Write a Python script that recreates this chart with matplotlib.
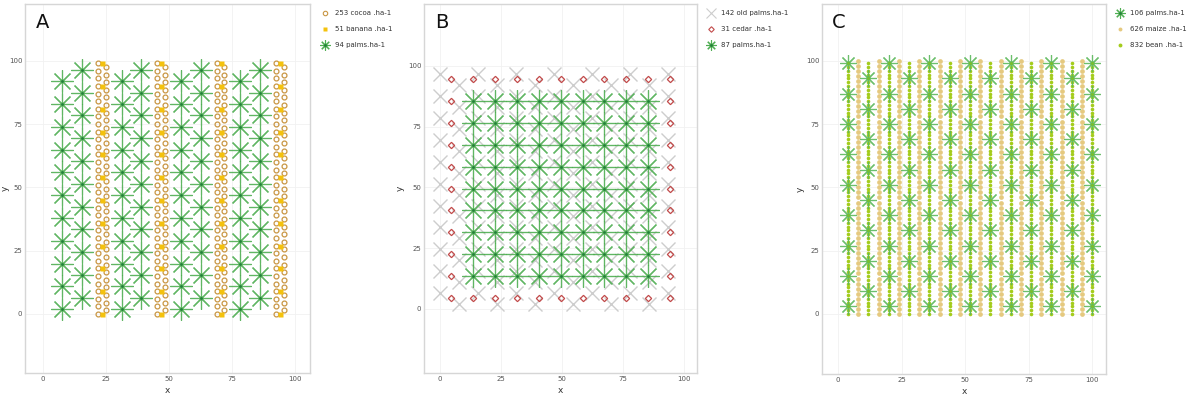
import numpy as np
import matplotlib.pyplot as plt
from matplotlib.lines import Line2D

# ---- panel A : palms + cocoa/banana strips
a_palm_x1 = [7.8, 31.3, 54.8, 78.3]
a_palm_x2 = [15.6, 39.1, 62.6, 86.1]
a_palm_y1 = [1.9, 10.9, 19.9, 28.9, 37.9, 46.9, 55.9, 64.9, 73.9, 82.9, 91.9]
a_palm_y2 = [6.4, 15.4, 24.4, 33.4, 42.4, 51.4, 60.4, 69.4, 78.4, 87.4, 96.4]
a_cocoa_x1 = [22.0, 45.5, 69.0, 92.5]
a_cocoa_x2 = [25.0, 48.5, 72.0, 95.5]
a_cocoa_y1 = [0, 3, 6, 9, 12, 15, 18, 21, 24, 27, 30, 33, 36, 39, 42, 45, 48,
              51, 54, 57, 60, 63, 66, 69, 72, 75, 78, 81, 84, 87, 90, 93, 96, 99]
a_cocoa_y2 = [1.5, 4.5, 7.5, 10.5, 13.5, 16.5, 19.5, 22.5, 25.5, 28.5, 31.5,
              34.5, 37.5, 40.5, 43.5, 46.5, 49.5, 52.5, 55.5, 58.5, 61.5, 64.5,
              67.5, 70.5, 73.5, 76.5, 79.5, 82.5, 85.5, 88.5, 91.5, 94.5, 97.5]
a_banana_x = [23.6, 47.1, 70.6, 94.1]
a_banana_y = [0, 9, 18, 27, 36, 45, 54, 63, 72, 81, 90, 99]

# ---- panel B : old palms, cedar border, new palm square grid
b_old_x1 = [0, 15.6, 31.2, 46.8, 62.4, 78.0, 93.6]
b_old_x2 = [7.8, 23.4, 39.0, 54.6, 70.2, 85.8]
b_old_y1 = [6.5, 15.5, 24.5, 33.5, 42.5, 51.5, 60.5, 69.5, 78.5, 87.5, 96.5]
b_old_y2 = [2.0, 11.0, 20.0, 29.0, 38.0, 47.0, 56.0, 65.0, 74.0, 83.0, 92.0]
b_cedar_pos = [4.5, 13.5, 22.5, 31.5, 40.5, 49.5, 58.5, 67.5, 76.5, 85.5, 94.5]
b_palm_pos = [13.5, 22.5, 31.5, 40.5, 49.5, 58.5, 67.5, 76.5, 85.5]

# ---- panel C : palms with beans on the row, maize between rows
c_palm_x1 = [4, 20, 36, 52, 68, 84, 100]
c_palm_x2 = [12, 28, 44, 60, 76, 92]
c_palm_y1 = [3, 15, 27, 39, 51, 63, 75, 87, 99]
c_palm_y2 = [9, 21, 33, 45, 57, 69, 81, 93]
c_bean_x = [4, 12, 20, 28, 36, 44, 52, 60, 68, 76, 84, 92, 100]
c_bean_y = [0, 1.5, 3, 4.5, 6, 7.5, 9, 10.5, 12, 13.5, 15, 16.5, 18, 19.5, 21,
            22.5, 24, 25.5, 27, 28.5, 30, 31.5, 33, 34.5, 36, 37.5, 39, 40.5,
            42, 43.5, 45, 46.5, 48, 49.5, 51, 52.5, 54, 55.5, 57, 58.5, 60,
            61.5, 63, 64.5, 66, 67.5, 69, 70.5, 72, 73.5, 75, 76.5, 78, 79.5,
            81, 82.5, 84, 85.5, 87, 88.5, 90, 91.5, 93, 94.5, 96, 97.5, 99]
c_maize_x = [8, 16, 24, 32, 40, 48, 56, 64, 72, 80, 88, 96]
c_maize_y = [0, 2, 4, 6, 8, 10, 12, 14, 16, 18, 20, 22, 24, 26, 28, 30, 32, 34,
             36, 38, 40, 42, 44, 46, 48, 50, 52, 54, 56, 58, 60, 62, 64, 66, 68,
             70, 72, 74, 76, 78, 80, 82, 84, 86, 88, 90, 92, 94, 96, 98, 100]

labels_a = ["253 cocoa .ha-1", "51 banana .ha-1", "94 palms.ha-1"]
labels_b = ["142 old palms.ha-1", "31 cedar .ha-1", "87 palms.ha-1"]
labels_c = ["106 palms.ha-1", "626 maize .ha-1", "832 bean .ha-1"]


def grid(xs, ys):
    gx, gy = np.meshgrid(xs, ys)
    return gx.ravel(), gy.ravel()


PALM = (8, 2, 0)
palm_col = "#4fae52"
palm_dot = "#23803a"
cocoa_col = "#c99643"
banana_col = "#f4c20d"
old_col = "#cdcdcd"
cedar_col = "#c24a4a"
maize_col = "#e5c97f"
bean_col = "#a4cc1c"

W, H = 1200, 397
fig = plt.figure(figsize=(12, 3.97), dpi=100)


def add_ax(l, r, t, b, xlim, ylim):
    ax = fig.add_axes([l / W, 1 - b / H, (r - l) / W, (b - t) / H])
    ax.set_xlim(*xlim)
    ax.set_ylim(*ylim)
    ax.set_xticks([0, 25, 50, 75, 100])
    ax.set_yticks([0, 25, 50, 75, 100])
    ax.grid(color="#f1f1f1", lw=0.6, zorder=0)
    ax.set_axisbelow(True)
    for s in ax.spines.values():
        s.set_color("#d6d6d6")
        s.set_linewidth(1.0)
    ax.tick_params(length=0, labelsize=5, labelcolor="#555555", pad=2)
    ax.set_xlabel("x", fontsize=6.5, color="#333333")
    ax.set_ylabel("y", fontsize=6.5, color="#333333")
    ax.xaxis.set_label_coords(0.5, -0.035)
    ax.xaxis.label.set_va("top")
    return ax


def palms(ax, xs, ys, ms, col, dot):
    ax.plot(xs, ys, ls="none", marker=PALM, ms=ms, mec=col, mew=0.85,
            alpha=0.9, zorder=4)
    ax.plot(xs, ys, ls="none", marker="o", ms=2.0, mfc=dot, mec="none", zorder=5)


def legend(ax, handles, labels, x, y):
    ax.legend(handles, labels, loc="upper left", bbox_to_anchor=(x / W, 1 - y / H),
              bbox_transform=fig.transFigure, frameon=False, fontsize=5,
              handlelength=1.2, handletextpad=0.8, labelspacing=1.46,
              borderpad=0, borderaxespad=0, labelcolor="#333333")


def palm_handle(col, dot):
    return (Line2D([], [], ls="none", marker=PALM, ms=7.5, mec=col, mew=0.8),
            Line2D([], [], ls="none", marker="o", ms=2.0, mfc=dot, mec="none"))


# ---------------- A
axA = add_ax(25, 310, 4, 373, (-7.0, 106.0), (-23.3, 122.4))
axA.yaxis.set_label_coords(-0.055, 0.5)
for xs, ys in [(a_cocoa_x1, a_cocoa_y1), (a_cocoa_x2, a_cocoa_y2)]:
    gx, gy = grid(xs, ys)
    axA.plot(gx, gy, ls="none", marker="o", ms=3.5, mfc="none", mec=cocoa_col,
             mew=0.9, zorder=3)
gx, gy = grid(a_banana_x, a_banana_y)
axA.plot(gx, gy, ls="none", marker="s", ms=3.6, mfc=banana_col, mec="none", zorder=3)
for xs, ys in [(a_palm_x1, a_palm_y1), (a_palm_x2, a_palm_y2)]:
    gx, gy = grid(xs, ys)
    palms(axA, gx, gy, 16, palm_col, palm_dot)
axA.text(0.039, 0.975, "A", transform=axA.transAxes, fontsize=14, va="top",
         ha="left", color="#111111")
legend(axA, [Line2D([], [], ls="none", marker="o", ms=3.2, mfc="none", mec=cocoa_col, mew=0.8),
             Line2D([], [], ls="none", marker="s", ms=3.4, mfc=banana_col, mec="none"),
             palm_handle(palm_col, palm_dot)], labels_a, 321, 10)

# ---------------- B
axB = add_ax(424, 697, 4, 373, (-6.6, 105.5), (-26.4, 125.4))
axB.yaxis.set_label_coords(-0.07, 0.5)
for xs, ys in [(b_old_x1, b_old_y1), (b_old_x2, b_old_y2)]:
    gx, gy = grid(xs, ys)
    axB.plot(gx, gy, ls="none", marker="x", ms=10, mec=old_col, mew=1.0, zorder=2)
gx, gy = grid(b_cedar_pos, b_cedar_pos)
edge = (gx == b_cedar_pos[0]) | (gx == b_cedar_pos[-1]) | \
       (gy == b_cedar_pos[0]) | (gy == b_cedar_pos[-1])
axB.plot(gx[edge], gy[edge], ls="none", marker="D", ms=3.2, mfc="none",
         mec=cedar_col, mew=0.9, zorder=3)
gx, gy = grid(b_palm_pos, b_palm_pos)
palms(axB, gx, gy, 16, palm_col, palm_dot)
axB.text(0.04, 0.975, "B", transform=axB.transAxes, fontsize=14, va="top",
         ha="left", color="#111111")
legend(axB, [Line2D([], [], ls="none", marker="x", ms=6.5, mec=old_col, mew=0.8),
             Line2D([], [], ls="none", marker="D", ms=2.8, mfc="none", mec=cedar_col, mew=0.8),
             palm_handle(palm_col, palm_dot)], labels_b, 707, 10)

# ---------------- C
axC = add_ax(822, 1106, 4, 374, (-6.3, 105.5), (-23.7, 122.4))
axC.yaxis.set_label_coords(-0.06, 0.5)
gx, gy = grid(c_maize_x, c_maize_y)
axC.plot(gx, gy, ls="none", marker="o", ms=3.4, mfc=maize_col, mec="none", zorder=2)
gx, gy = grid(c_bean_x, c_bean_y)
axC.plot(gx, gy, ls="none", marker="o", ms=2.6, mfc=bean_col, mec="none", zorder=3)
for xs, ys in [(c_palm_x1, c_palm_y1), (c_palm_x2, c_palm_y2)]:
    gx, gy = grid(xs, ys)
    palms(axC, gx, gy, 12, "#5cb85c", "#7cbf2a")
axC.text(0.035, 0.975, "C", transform=axC.transAxes, fontsize=14, va="top",
         ha="left", color="#111111")
legend(axC, [palm_handle("#4fae52", "#23803a"),
             Line2D([], [], ls="none", marker="o", ms=2.8, mfc=maize_col, mec="none"),
             Line2D([], [], ls="none", marker="o", ms=2.8, mfc=bean_col, mec="none")],
       labels_c, 1116, 10)

fig.savefig("out.png", dpi=100)
